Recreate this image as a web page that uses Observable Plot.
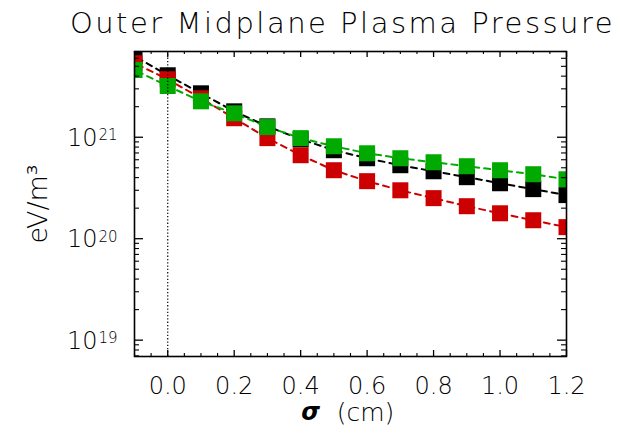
<!DOCTYPE html>
<html>
<head>
<meta charset="utf-8">
<script src="https://cdn.jsdelivr.net/npm/d3@7"></script>
<script src="https://cdn.jsdelivr.net/npm/@observablehq/plot@0.6"></script>
<style>
  html, body { margin: 0; padding: 0; background: #fff; }
  svg { display: block; }
</style>
</head>
<body>
<div id="chart"></div>
<script>
const title = "Outer Midplane Plasma Pressure";
const xLabelSym = "σ";
const xLabelUnit = "(cm)";
const yLabel = "eV/m³";

const sigma = [-0.1, 0.0, 0.1, 0.2, 0.3, 0.4, 0.5, 0.6, 0.7, 0.8, 0.9, 1.0, 1.1, 1.2];
const blackP = [6.3e21, 4.08e21, 2.71e21, 1.80e21, 1.28e21, 9.56e20, 7.45e20, 6.21e20, 5.3e20, 4.62e20, 4.04e20, 3.52e20, 3.08e20, 2.69e20];
const redP   = [5.36e21, 3.73e21, 2.42e21, 1.54e21, 9.8e20, 6.65e20, 4.73e20, 3.69e20, 3.0e20, 2.51e20, 2.09e20, 1.78e20, 1.52e20, 1.30e20];
const greenP = [4.6e21, 3.2e21, 2.26e21, 1.72e21, 1.26e21, 9.8e20, 8.15e20, 6.95e20, 6.21e20, 5.67e20, 5.18e20, 4.73e20, 4.32e20, 3.85e20];

const xTickValues = [0.0, 0.2, 0.4, 0.6, 0.8, 1.0, 1.2];
const xTickLabels = ["0.0", "0.2", "0.4", "0.6", "0.8", "1.0", "1.2"];
const xMinorTicks = [-0.1, -0.05, 0.05, 0.1, 0.15, 0.25, 0.3, 0.35, 0.45, 0.5, 0.55, 0.65, 0.7, 0.75, 0.85, 0.9, 0.95, 1.05, 1.1, 1.15];
const yTickValues = [1e19, 1e20, 1e21];
const yTickBase = ["10", "10", "10"];
const yTickExp = ["19", "20", "21"];
const yMinorTicks = [7e18, 8e18, 9e18,
  2e19, 3e19, 4e19, 5e19, 6e19, 7e19, 8e19, 9e19,
  2e20, 3e20, 4e20, 5e20, 6e20, 7e20, 8e20, 9e20,
  2e21, 3e21, 4e21, 5e21, 6e21, 7e21];

const series = [
  {name: "black", color: "#000000", values: blackP},
  {name: "red", color: "#cc0000", values: redP},
  {name: "green", color: "#00aa00", values: greenP}
];

const W = 625, H = 433;
const mL = 134, mR = 59, mT = 51, mB = 77;
const innerW = W - mL - mR, innerH = H - mT - mB;
const font = "DejaVu Sans";
const fw = 200;

const marks = [];
for (const s of series) {
  const rows = sigma.map((x, i) => ({x, y: s.values[i]}));
  marks.push(Plot.line(rows, {x: "x", y: "y", stroke: s.color, strokeWidth: 2, strokeDasharray: "6,5", strokeDashoffset: 8, clip: true}));
  marks.push(Plot.dot(rows, {x: "x", y: "y", symbol: "square", r: 9.03, fill: s.color, stroke: "none", clip: true}));
}
// dotted zero line
marks.push(Plot.ruleX([0], {stroke: "#000", strokeWidth: 1.2, strokeDasharray: "1.3,2"}));
// frame
marks.push(Plot.frame({stroke: "#000", strokeWidth: 1.6}));
// inward ticks, x bottom/top
marks.push(Plot.tickX(xTickValues, {x: d => d, stroke: "#000", strokeWidth: 1.3, insetTop: innerH - 6}));
marks.push(Plot.tickX(xTickValues, {x: d => d, stroke: "#000", strokeWidth: 1.3, insetBottom: innerH - 6}));
marks.push(Plot.tickX(xMinorTicks, {x: d => d, stroke: "#000", strokeWidth: 1.1, insetTop: innerH - 3}));
marks.push(Plot.tickX(xMinorTicks, {x: d => d, stroke: "#000", strokeWidth: 1.1, insetBottom: innerH - 3}));
// inward ticks, y left/right
marks.push(Plot.tickY(yTickValues, {y: d => d, stroke: "#000", strokeWidth: 1.3, insetRight: innerW - 9}));
marks.push(Plot.tickY(yTickValues, {y: d => d, stroke: "#000", strokeWidth: 1.3, insetLeft: innerW - 9}));
marks.push(Plot.tickY(yMinorTicks, {y: d => d, stroke: "#000", strokeWidth: 1.1, insetRight: innerW - 5}));
marks.push(Plot.tickY(yMinorTicks, {y: d => d, stroke: "#000", strokeWidth: 1.1, insetLeft: innerW - 5}));
// tick labels
marks.push(Plot.text(xTickValues, {x: d => d, text: (d, i) => xTickLabels[i], frameAnchor: "bottom", textAnchor: "middle", dy: 30, fontSize: 24, fontWeight: fw, fontFamily: font, fill: "#000", lineAnchor: "middle"}));
marks.push(Plot.text(yTickValues, {y: d => d, text: (d, i) => yTickBase[i], frameAnchor: "left", textAnchor: "end", dx: -37, dy: 1, fontSize: 24, fontWeight: fw, fontFamily: font, fill: "#000", lineAnchor: "middle"}));
marks.push(Plot.text(yTickValues, {y: d => d, text: (d, i) => yTickExp[i], frameAnchor: "left", textAnchor: "start", dx: -36, dy: -2, fontSize: 15, fontWeight: fw, fontFamily: font, fill: "#000", lineAnchor: "middle"}));
// axis labels
marks.push(Plot.text([xLabelSym], {text: d => d, frameAnchor: "bottom", textAnchor: "middle", dx: -40, dy: 56, fontSize: 24, fontStyle: "italic", fontWeight: "bold", fontFamily: font, fill: "#000", lineAnchor: "middle"}));
marks.push(Plot.text([xLabelUnit], {text: d => d, frameAnchor: "bottom", textAnchor: "middle", dx: 15, dy: 56, fontSize: 25, fontWeight: fw, fontFamily: font, fill: "#000", lineAnchor: "middle"}));
marks.push(Plot.text([yLabel], {text: d => d, frameAnchor: "left", textAnchor: "middle", dx: -96, rotate: -90, fontSize: 27, fontWeight: fw, fontFamily: font, fill: "#000", lineAnchor: "middle"}));
// title
marks.push(Plot.text([title], {text: d => d, frameAnchor: "top", textAnchor: "middle", dx: -8, dy: -28, fontSize: 29, fontWeight: fw, fontFamily: font, fill: "#000", lineAnchor: "middle"}));

const chart = Plot.plot({
  width: W,
  height: H,
  marginLeft: mL,
  marginRight: mR,
  marginTop: mT,
  marginBottom: mB,
  style: {background: "#fff", fontFamily: font, overflow: "visible"},
  x: {domain: [-0.1, 1.2], axis: null},
  y: {type: "log", domain: [6.9e18, 7e21], axis: null},
  marks
});
d3.select(chart).selectAll("text").filter(function () { return this.textContent === title; }).attr("letter-spacing", 2.5);
document.getElementById("chart").appendChild(chart);
</script>
</body>
</html>
